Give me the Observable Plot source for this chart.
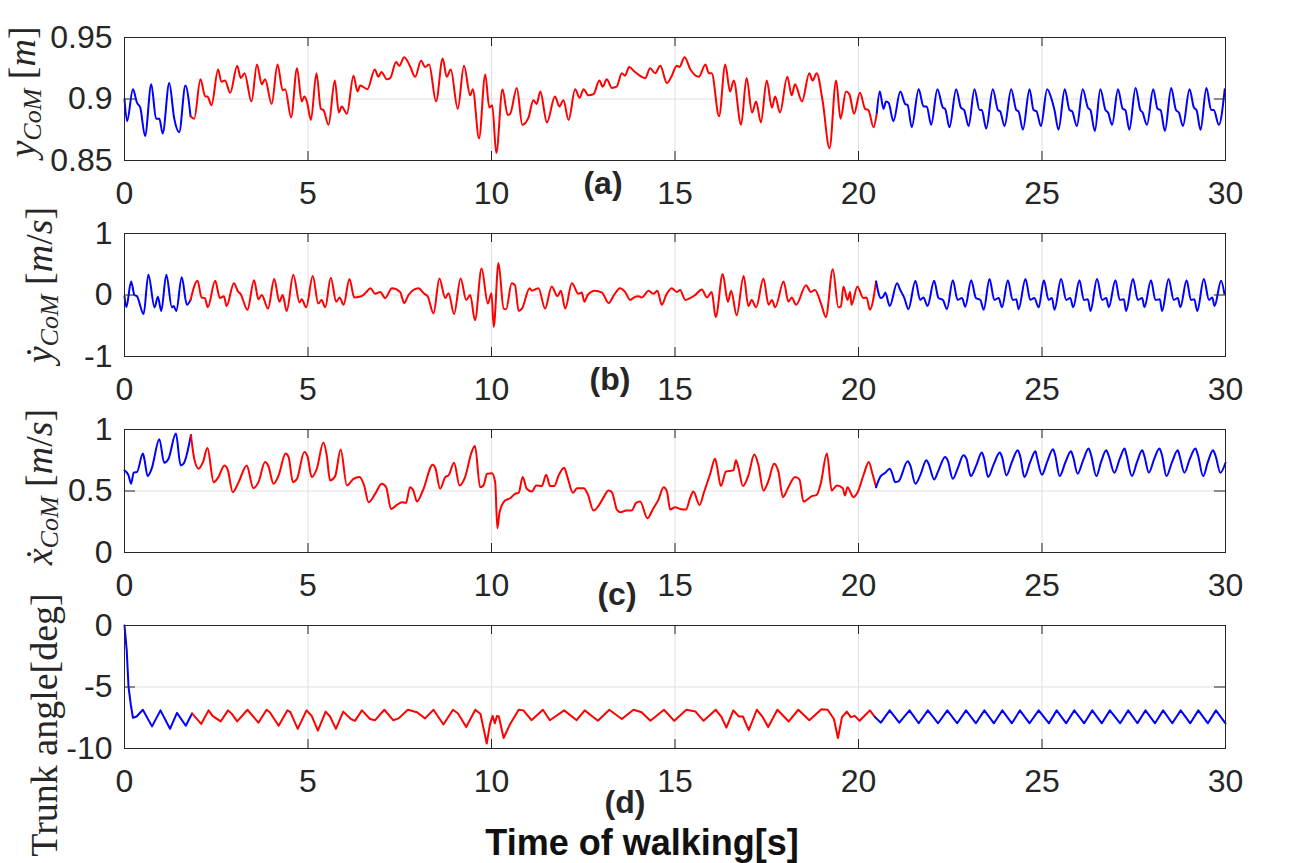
<!DOCTYPE html>
<html><head><meta charset="utf-8">
<script src="https://cdn.jsdelivr.net/npm/d3@7"></script>
<script src="https://cdn.jsdelivr.net/npm/@observablehq/plot@0.6"></script>
<style>
body{margin:0;background:#fff;}
#fig{position:relative;width:1293px;height:863px;overflow:hidden;background:#fff;}
#fig svg{position:absolute;left:0;}
</style></head><body><div id="fig"></div>
<script>
// ---------- data: [time (s), value] ----------
const xTicks = [0, 5, 10, 15, 20, 25, 30];

const aTicks = [0.85, 0.9, 0.95];
const aBlueStart = [[0,0.900],[0.07,0.882],[0.23,0.908],[0.34,0.897],[0.43,0.893],[0.56,0.870],[0.73,0.912],[0.86,0.884],[0.95,0.884],[1.04,0.872],[1.22,0.913],[1.35,0.885],[1.49,0.873],[1.66,0.911],[1.80,0.886]];
const aRed = [[1.80,0.886],[1.90,0.884],[2.07,0.916],[2.20,0.902],[2.26,0.902],[2.37,0.895],[2.55,0.924],[2.64,0.914],[2.74,0.915],[2.88,0.905],[3.07,0.927],[3.17,0.917],[3.27,0.921],[3.46,0.898],[3.61,0.928],[3.74,0.912],[3.83,0.916],[4.01,0.896],[4.17,0.928],[4.31,0.907],[4.38,0.908],[4.54,0.885],[4.70,0.925],[4.83,0.898],[4.90,0.902],[4.97,0.898],[5.08,0.883],[5.23,0.921],[5.35,0.892],[5.42,0.891],[5.56,0.879],[5.73,0.915],[5.84,0.889],[5.92,0.894],[6.06,0.888],[6.24,0.919],[6.35,0.906],[6.42,0.911],[6.62,0.908],[6.82,0.924],[6.92,0.918],[7.00,0.922],[7.15,0.916],[7.24,0.917],[7.40,0.930],[7.49,0.927],[7.62,0.934],[7.79,0.926],[7.92,0.918],[8.08,0.931],[8.19,0.926],[8.30,0.928],[8.49,0.898],[8.67,0.933],[8.78,0.918],[8.89,0.924],[9.08,0.892],[9.25,0.927],[9.42,0.903],[9.49,0.908],[9.66,0.868],[9.83,0.920],[9.94,0.893],[10.02,0.895],[10.13,0.856],[10.30,0.908],[10.44,0.887],[10.51,0.888],[10.69,0.909],[10.84,0.879],[11.01,0.885],[11.14,0.899],[11.23,0.896],[11.33,0.906],[11.51,0.881],[11.73,0.902],[11.85,0.894],[11.96,0.899],[12.10,0.883],[12.28,0.908],[12.40,0.901],[12.51,0.908],[12.64,0.903],[12.78,0.904],[12.94,0.915],[13.03,0.910],[13.14,0.916],[13.28,0.909],[13.41,0.910],[13.55,0.921],[13.64,0.919],[13.75,0.926],[13.91,0.922],[14.19,0.917],[14.32,0.925],[14.46,0.921],[14.60,0.927],[14.78,0.913],[14.90,0.918],[15.05,0.927],[15.12,0.926],[15.26,0.934],[15.42,0.924],[15.65,0.918],[15.83,0.928],[15.92,0.921],[16.00,0.921],[16.20,0.886],[16.37,0.928],[16.50,0.906],[16.60,0.915],[16.80,0.879],[16.95,0.917],[17.10,0.889],[17.21,0.898],[17.34,0.881],[17.50,0.915],[17.64,0.893],[17.73,0.902],[17.86,0.889],[18.06,0.918],[18.18,0.903],[18.27,0.912],[18.46,0.898],[18.66,0.921],[18.75,0.915],[18.86,0.921],[19.02,0.899],[19.21,0.860],[19.39,0.915],[19.51,0.884],[19.66,0.906],[19.75,0.904],[19.88,0.888],[20.04,0.905],[20.18,0.892],[20.27,0.891],[20.41,0.877],[20.50,0.889]];
const aBlueEnd = [[20.50,0.889],[20.58,0.906],[20.68,0.892],[20.75,0.898],[20.82,0.897],[20.95,0.882],[21.14,0.906],[21.27,0.896],[21.34,0.895],[21.45,0.877],[21.64,0.908],[21.77,0.894],[21.86,0.894],[21.98,0.879],[22.15,0.908],[22.30,0.893],[22.36,0.892],[22.48,0.877],[22.66,0.908],[22.79,0.893],[22.88,0.891],[23.00,0.878],[23.16,0.908],[23.30,0.891],[23.36,0.891],[23.48,0.876],[23.66,0.908],[23.80,0.891],[23.86,0.890],[23.98,0.878],[24.16,0.908],[24.30,0.891],[24.36,0.890],[24.48,0.875],[24.66,0.908],[24.77,0.891],[24.85,0.890],[24.97,0.878],[25.14,0.908],[25.27,0.899],[25.34,0.891],[25.45,0.875],[25.62,0.908],[25.75,0.891],[25.82,0.890],[25.95,0.878],[26.11,0.908],[26.25,0.893],[26.32,0.891],[26.44,0.874],[26.59,0.908],[26.73,0.891],[26.80,0.889],[26.91,0.879],[27.07,0.908],[27.20,0.892],[27.27,0.891],[27.38,0.875],[27.55,0.909],[27.68,0.891],[27.74,0.889],[27.86,0.879],[28.03,0.908],[28.15,0.892],[28.23,0.891],[28.35,0.874],[28.52,0.909],[28.65,0.891],[28.73,0.889],[28.84,0.878],[29.02,0.908],[29.14,0.893],[29.21,0.891],[29.32,0.875],[29.48,0.909],[29.61,0.891],[29.68,0.891],[29.82,0.879],[29.98,0.908]];

const bTicks = [-1, 0, 1];
const bBlueStart = [[0,-0.02],[0.05,-0.20],[0.18,0.22],[0.27,0.00],[0.34,-0.02],[0.52,-0.31],[0.65,0.33],[0.82,-0.20],[0.91,-0.03],[1.00,-0.26],[1.14,0.33],[1.29,-0.20],[1.34,-0.18],[1.41,-0.26],[1.56,0.29],[1.70,-0.16],[1.80,-0.08]];
const bRed = [[1.80,-0.08],[1.99,0.23],[2.10,-0.04],[2.19,-0.05],[2.27,-0.20],[2.47,0.23],[2.60,-0.05],[2.71,-0.02],[2.78,-0.18],[2.98,0.19],[3.10,0.05],[3.16,0.02],[3.35,-0.24],[3.53,0.24],[3.65,-0.07],[3.74,0.00],[3.91,-0.22],[4.08,0.26],[4.22,-0.11],[4.31,0.00],[4.42,-0.26],[4.60,0.33],[4.77,-0.12],[4.83,-0.07],[4.95,-0.20],[5.13,0.31],[5.28,-0.14],[5.37,-0.08],[5.47,-0.20],[5.62,0.28],[5.77,-0.11],[5.86,-0.04],[5.97,-0.16],[6.13,0.26],[6.26,-0.04],[6.40,-0.03],[6.51,0.00],[6.59,0.05],[6.70,0.11],[6.83,0.02],[6.97,0.05],[7.10,-0.05],[7.29,0.11],[7.51,0.05],[7.62,-0.13],[7.74,0.00],[8.01,0.11],[8.17,0.02],[8.26,-0.02],[8.42,-0.30],[8.58,0.27],[8.74,-0.05],[8.83,0.03],[8.98,-0.31],[9.16,0.27],[9.31,-0.08],[9.42,0.00],[9.55,-0.41],[9.73,0.43],[9.90,-0.14],[10.00,0.03],[10.06,-0.52],[10.19,0.52],[10.33,-0.22],[10.40,-0.23],[10.55,0.19],[10.64,0.16],[10.74,-0.26],[10.83,-0.22],[11.04,0.11],[11.10,0.07],[11.19,0.09],[11.28,0.11],[11.46,-0.22],[11.64,0.14],[11.80,-0.02],[11.89,0.07],[12.01,-0.22],[12.19,0.19],[12.37,0.02],[12.46,0.04],[12.53,-0.11],[12.62,0.00],[12.82,0.07],[13.01,0.04],[13.19,-0.13],[13.34,0.00],[13.50,0.11],[13.64,0.05],[13.78,-0.08],[13.91,-0.03],[14.00,-0.02],[14.10,-0.04],[14.28,0.07],[14.41,0.02],[14.52,0.07],[14.64,-0.16],[14.76,0.00],[14.91,0.11],[15.05,0.05],[15.14,0.08],[15.28,-0.08],[15.41,-0.05],[15.55,0.00],[15.73,0.09],[15.87,-0.04],[16.00,0.05],[16.11,-0.36],[16.30,0.34],[16.44,-0.11],[16.53,0.07],[16.68,-0.33],[16.87,0.31],[17.00,-0.18],[17.09,-0.08],[17.21,-0.20],[17.41,0.27],[17.55,-0.16],[17.64,-0.08],[17.73,-0.20],[17.96,0.22],[18.09,-0.11],[18.18,-0.04],[18.30,-0.16],[18.57,0.16],[18.70,0.05],[18.81,0.08],[18.99,-0.16],[19.11,-0.36],[19.30,0.42],[19.45,-0.20],[19.52,-0.19],[19.59,0.14],[19.70,-0.08],[19.77,0.05],[19.81,-0.16],[19.97,0.14],[20.13,-0.05],[20.22,-0.04],[20.31,-0.24],[20.48,0.22]];
const bBlueEnd = [[20.48,0.22],[20.61,-0.05],[20.68,-0.02],[20.73,0.04],[20.85,-0.18],[21.05,0.19],[21.14,0.08],[21.25,-0.05],[21.36,-0.23],[21.55,0.23],[21.68,-0.08],[21.77,-0.04],[21.88,-0.18],[22.06,0.23],[22.18,-0.05],[22.30,-0.08],[22.41,-0.23],[22.57,0.24],[22.70,-0.08],[22.82,-0.05],[22.91,-0.19],[23.07,0.24],[23.20,-0.05],[23.32,-0.08],[23.41,-0.24],[23.57,0.26],[23.70,-0.08],[23.82,-0.05],[23.91,-0.20],[24.07,0.24],[24.20,-0.08],[24.30,-0.07],[24.36,-0.23],[24.55,0.26],[24.68,-0.08],[24.79,-0.05],[24.91,-0.20],[25.05,0.24],[25.18,-0.08],[25.27,-0.05],[25.34,-0.24],[25.52,0.26],[25.66,-0.08],[25.77,-0.05],[25.85,-0.20],[26.02,0.24],[26.14,-0.08],[26.25,-0.07],[26.32,-0.26],[26.50,0.26],[26.64,-0.08],[26.75,-0.05],[26.82,-0.20],[27.00,0.24],[27.12,-0.08],[27.23,-0.07],[27.29,-0.26],[27.48,0.26],[27.61,-0.08],[27.73,-0.05],[27.79,-0.20],[27.97,0.24],[28.09,-0.08],[28.21,-0.07],[28.27,-0.26],[28.45,0.26],[28.59,-0.08],[28.70,-0.05],[28.77,-0.20],[28.94,0.24],[29.06,-0.08],[29.15,-0.07],[29.23,-0.26],[29.41,0.26],[29.55,-0.08],[29.64,-0.04],[29.70,-0.18],[29.88,0.23],[29.97,0.02]];

const cTicks = [0, 0.5, 1];
const cBlueStart = [[0,0.668],[0.11,0.627],[0.18,0.559],[0.25,0.649],[0.34,0.654],[0.50,0.804],[0.54,0.763],[0.63,0.621],[0.74,0.681],[0.95,0.921],[1.08,0.730],[1.20,0.763],[1.40,0.967],[1.53,0.708],[1.61,0.722],[1.81,0.955]];
const cRed = [[1.81,0.955],[1.90,0.763],[2.02,0.681],[2.14,0.736],[2.26,0.850],[2.43,0.572],[2.56,0.613],[2.72,0.708],[2.81,0.676],[2.95,0.490],[3.11,0.572],[3.33,0.708],[3.51,0.523],[3.65,0.572],[3.83,0.736],[3.92,0.703],[4.06,0.559],[4.20,0.627],[4.39,0.804],[4.47,0.777],[4.59,0.572],[4.70,0.599],[4.90,0.818],[4.99,0.777],[5.10,0.613],[5.24,0.681],[5.42,0.894],[5.51,0.790],[5.60,0.586],[5.74,0.621],[5.89,0.837],[6.06,0.545],[6.24,0.599],[6.40,0.613],[6.53,0.545],[6.65,0.409],[6.83,0.477],[7.01,0.559],[7.13,0.531],[7.26,0.354],[7.42,0.387],[7.56,0.409],[7.67,0.403],[7.78,0.531],[7.87,0.504],[7.97,0.414],[8.13,0.504],[8.40,0.714],[8.47,0.687],[8.60,0.518],[8.74,0.613],[8.83,0.627],[8.98,0.730],[9.13,0.545],[9.28,0.613],[9.46,0.818],[9.55,0.866],[9.69,0.531],[9.78,0.545],[9.88,0.640],[10.01,0.645],[10.10,0.572],[10.16,0.196],[10.22,0.327],[10.37,0.422],[10.51,0.441],[10.64,0.477],[10.74,0.485],[10.85,0.613],[10.96,0.518],[11.10,0.496],[11.22,0.545],[11.37,0.540],[11.49,0.632],[11.60,0.540],[11.71,0.540],[11.83,0.627],[11.98,0.689],[12.07,0.613],[12.22,0.485],[12.33,0.523],[12.51,0.523],[12.62,0.477],[12.78,0.341],[12.92,0.381],[13.03,0.436],[13.19,0.504],[13.28,0.490],[13.42,0.346],[13.52,0.327],[13.67,0.341],[13.82,0.341],[13.94,0.403],[14.05,0.414],[14.25,0.278],[14.40,0.354],[14.55,0.430],[14.69,0.531],[14.78,0.496],[14.87,0.349],[15.00,0.368],[15.14,0.354],[15.30,0.349],[15.41,0.441],[15.50,0.496],[15.67,0.387],[15.79,0.490],[15.96,0.640],[16.09,0.763],[16.14,0.708],[16.25,0.540],[16.39,0.659],[16.59,0.668],[16.66,0.749],[16.73,0.687],[16.85,0.540],[17.00,0.627],[17.16,0.796],[17.27,0.714],[17.41,0.504],[17.55,0.586],[17.70,0.722],[17.82,0.654],[17.94,0.450],[18.09,0.531],[18.27,0.613],[18.39,0.594],[18.50,0.414],[18.73,0.458],[18.86,0.469],[18.97,0.559],[19.14,0.804],[19.27,0.504],[19.41,0.545],[19.57,0.523],[19.63,0.463],[19.70,0.531],[19.86,0.450],[19.97,0.485],[20.14,0.632],[20.28,0.736],[20.38,0.640],[20.48,0.531]];
const cBlueEnd = [[20.48,0.531],[20.59,0.613],[20.73,0.649],[20.85,0.681],[20.91,0.649],[21.00,0.572],[21.09,0.578],[21.34,0.741],[21.41,0.708],[21.55,0.559],[21.68,0.627],[21.85,0.749],[21.91,0.722],[22.06,0.594],[22.18,0.668],[22.36,0.777],[22.43,0.749],[22.57,0.599],[22.70,0.681],[22.86,0.790],[22.94,0.763],[23.06,0.621],[23.21,0.708],[23.36,0.812],[23.42,0.768],[23.53,0.613],[23.68,0.714],[23.85,0.812],[23.91,0.777],[24.03,0.627],[24.18,0.736],[24.34,0.831],[24.41,0.777],[24.52,0.613],[24.68,0.736],[24.82,0.823],[24.86,0.777],[25.00,0.632],[25.14,0.736],[25.30,0.839],[25.36,0.790],[25.48,0.621],[25.64,0.736],[25.79,0.823],[25.85,0.777],[25.97,0.640],[26.12,0.749],[26.27,0.845],[26.34,0.790],[26.48,0.621],[26.61,0.736],[26.75,0.831],[26.82,0.785],[26.97,0.649],[27.12,0.763],[27.25,0.845],[27.30,0.796],[27.45,0.621],[27.59,0.736],[27.73,0.831],[27.79,0.785],[27.91,0.649],[28.06,0.763],[28.20,0.845],[28.27,0.790],[28.39,0.621],[28.55,0.741],[28.70,0.831],[28.75,0.785],[28.88,0.649],[29.03,0.763],[29.18,0.845],[29.25,0.790],[29.39,0.621],[29.52,0.736],[29.66,0.831],[29.73,0.785],[29.86,0.649],[30.00,0.730]];

const dTicks = [-10, -5, 0];
const dBlueStart = [[0,0],[0.06,-2.0],[0.11,-5.0],[0.17,-6.4],[0.23,-7.5],[0.33,-7.4],[0.50,-6.85],[0.75,-8.2],[0.98,-6.9],[1.24,-8.4],[1.43,-7.1],[1.67,-8.15],[1.84,-7.15]];
const dRed = [[1.84,-7.15],[2.09,-8.0],[2.29,-6.9],[2.40,-7.35],[2.62,-7.8],[2.82,-6.9],[2.93,-7.2],[3.07,-7.8],[3.35,-6.85],[3.65,-7.9],[3.87,-6.85],[3.96,-7.05],[4.20,-8.15],[4.44,-6.9],[4.52,-7.05],[4.72,-8.4],[4.96,-6.9],[5.10,-7.35],[5.27,-8.55],[5.48,-7.0],[5.60,-7.4],[5.76,-8.4],[5.96,-7.0],[6.17,-7.6],[6.28,-7.75],[6.47,-6.9],[6.69,-7.6],[6.83,-7.7],[7.08,-6.85],[7.32,-7.7],[7.47,-7.55],[7.72,-6.85],[7.97,-7.05],[8.19,-7.55],[8.42,-6.85],[8.69,-8.05],[8.95,-6.85],[9.09,-7.15],[9.31,-8.25],[9.56,-6.85],[9.70,-7.2],[9.87,-9.6],[9.96,-8.0],[10.03,-7.35],[10.09,-7.95],[10.15,-7.35],[10.20,-7.4],[10.33,-9.15],[10.51,-8.0],[10.74,-6.85],[10.87,-6.9],[11.09,-7.7],[11.40,-6.85],[11.59,-7.7],[11.98,-6.9],[12.32,-7.7],[12.54,-6.9],[12.90,-7.75],[13.21,-6.85],[13.55,-7.6],[13.87,-6.85],[14.09,-7.05],[14.33,-7.75],[14.70,-6.85],[14.98,-7.75],[15.31,-6.85],[15.56,-7.0],[15.78,-7.75],[16.11,-6.85],[16.26,-7.4],[16.40,-8.3],[16.59,-6.9],[16.74,-7.4],[16.85,-7.4],[17.01,-8.5],[17.23,-6.85],[17.38,-7.4],[17.54,-8.25],[17.79,-6.85],[18.10,-7.8],[18.36,-6.85],[18.66,-7.7],[18.99,-6.8],[19.16,-6.85],[19.33,-7.6],[19.44,-9.15],[19.55,-7.45],[19.68,-7.0],[19.79,-7.45],[19.90,-7.35],[20.03,-7.75],[20.31,-6.9],[20.45,-7.45]];
const dBlueEnd = [[20.45,-7.45],[20.61,-7.9],[20.85,-6.9],[21.11,-7.9],[21.39,-6.9],[21.64,-7.95],[21.89,-6.9],[22.17,-7.95],[22.42,-6.9],[22.69,-7.95],[22.93,-6.9],[23.20,-7.95],[23.43,-6.9],[23.69,-7.95],[23.92,-6.9],[24.18,-7.95],[24.40,-6.9],[24.66,-7.95],[24.91,-6.9],[25.19,-7.95],[25.40,-6.9],[25.66,-7.95],[25.88,-6.9],[26.15,-7.95],[26.37,-6.9],[26.63,-7.95],[26.85,-6.9],[27.13,-7.95],[27.35,-6.9],[27.60,-7.95],[27.82,-6.9],[28.08,-7.95],[28.30,-6.9],[28.55,-7.95],[28.78,-6.9],[29.04,-7.95],[29.26,-6.9],[29.52,-7.95],[29.74,-6.9],[30.00,-7.95]];

const panelTags = ["(a)", "(b)", "(c)", "(d)"];
const xTitle = "Time of walking[s]";

// ---------- drawing ----------
const W = 1293, ML = 124, MR = 68, MT = 37, PH = 123;
const PW = W - ML - MR;
const INK = "#262626", GRID = "#dfdfdf";
const fig = document.getElementById("fig");

function panel(cfg) {
  const chart = Plot.plot({
    width: W, height: cfg.height,
    marginLeft: ML, marginRight: MR, marginTop: MT, marginBottom: cfg.height - MT - PH,
    style: {background: "transparent", overflow: "visible", fontFamily: "'Liberation Sans', Arial, sans-serif", fontSize: "32px", color: INK},
    x: {domain: [0, 30]},
    y: {domain: [cfg.ticks[0], cfg.ticks[cfg.ticks.length - 1]]},
    marks: [
      Plot.ruleX(xTicks, {stroke: GRID, strokeWidth: 1}),
      Plot.ruleY(cfg.ticks, {stroke: GRID, strokeWidth: 1}),
      ...cfg.series.map(([data, color]) => Plot.line(data, {x: d => d[0], y: d => d[1], stroke: color, strokeWidth: 2, curve: cfg.curve})),
      Plot.ruleX(xTicks, {stroke: INK, insetBottom: PH - 9}),
      Plot.ruleX(xTicks, {stroke: INK, insetTop: PH - 9}),
      Plot.ruleY(cfg.ticks, {stroke: INK, insetRight: PW - 11}),
      Plot.ruleY(cfg.ticks, {stroke: INK, insetLeft: PW - 11}),
      Plot.frame({stroke: INK, strokeWidth: 1}),
      Plot.axisX(xTicks, {tickSize: 0, tickPadding: 21, fontSize: 32, fill: INK, label: null, tickFormat: d => String(d)}),
      Plot.axisY(cfg.ticks, {tickSize: 0, tickPadding: 12, fontSize: 32, fill: INK, label: null, tickFormat: d => String(d)})
    ]
  });
  chart.style.top = cfg.top + "px";
  fig.appendChild(chart);
  const svg = d3.select(chart);
  // y label (math style)
  const t = svg.append("text")
    .attr("transform", `translate(${cfg.lab.x},${cfg.lab.y}) rotate(-90)`)
    .attr("text-anchor", "middle")
    .attr("font-family", "'Liberation Serif','DejaVu Serif','Times New Roman',serif")
    .attr("font-size", cfg.lab.size).attr("fill", INK);
  for (const p of cfg.lab.parts) {
    t.append("tspan")
      .attr("font-style", p.i ? "italic" : "normal")
      .attr("font-size", p.s || cfg.lab.size)
      .attr("dy", p.dy || 0)
      .text(p.t);
  }
  // panel tag
  svg.append("text").attr("x", cfg.tag.x).attr("y", cfg.tag.y)
    .attr("text-anchor", "middle").attr("font-family", "'Liberation Sans', Arial, sans-serif")
    .attr("font-weight", "bold").attr("font-size", 32).attr("fill", INK).text(cfg.tag.text);
  return svg;
}

const BLUE = "#0000ff", RED = "#ff0000";

panel({top: 0, height: 196, ticks: aTicks, curve: "monotone-x",
  series: [[aBlueStart, BLUE], [aRed, RED], [aBlueEnd, BLUE]],
  lab: {x: 35, y: 92, size: 38, parts: [{t: "y", i: 1}, {t: "CoM", i: 1, s: 26, dy: 6}, {t: " [", dy: -6}, {t: "m", i: 1}, {t: "]"}]},
  tag: {x: 603, y: 194, text: panelTags[0]}});

panel({top: 196, height: 196, ticks: bTicks, curve: "monotone-x",
  series: [[bBlueStart, BLUE], [bRed, RED], [bBlueEnd, BLUE]],
  lab: {x: 52, y: 89, size: 38, parts: [{t: "ẏ", i: 1}, {t: "CoM", i: 1, s: 26, dy: 6}, {t: " [", dy: -6}, {t: "m", i: 1}, {t: "/"}, {t: "s", i: 1}, {t: "]"}]},
  tag: {x: 610, y: 194, text: panelTags[1]}});

panel({top: 392, height: 196, ticks: cTicks, curve: "monotone-x",
  series: [[cBlueStart, BLUE], [cRed, RED], [cBlueEnd, BLUE]],
  lab: {x: 52, y: 95, size: 38, parts: [{t: "ẋ", i: 1}, {t: "CoM", i: 1, s: 26, dy: 6}, {t: " [", dy: -6}, {t: "m", i: 1}, {t: "/"}, {t: "s", i: 1}, {t: "]"}]},
  tag: {x: 617, y: 213, text: panelTags[2]}});

const last = panel({top: 588, height: 275, ticks: dTicks, curve: "linear",
  series: [[dBlueStart, BLUE], [dRed, RED], [dBlueEnd, BLUE]],
  lab: {x: 57, y: 137, size: 38, parts: [{t: "Trunk angle[deg]"}]},
  tag: {x: 625, y: 225, text: panelTags[3]}});

last.append("text").attr("x", 642).attr("y", 267).attr("text-anchor", "middle")
  .attr("font-family", "'Liberation Sans', Arial, sans-serif").attr("font-weight", "bold")
  .attr("font-size", 36).attr("fill", "#111").text(xTitle);
</script></body></html>
